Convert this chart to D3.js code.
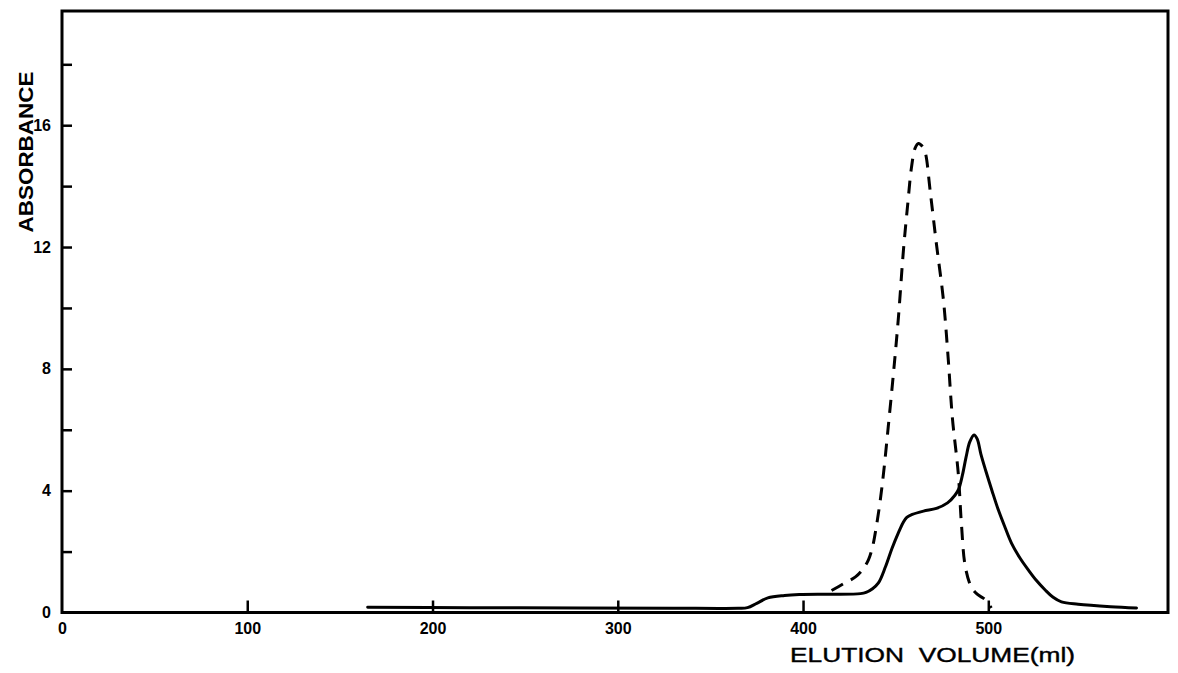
<!DOCTYPE html>
<html>
<head>
<meta charset="utf-8">
<script src="https://cdn.jsdelivr.net/npm/d3@7"></script>
<style>
  html, body { margin: 0; padding: 0; background: #fff; }
  svg { display: block; }
</style>
</head>
<body>
<svg id="chart" width="1178" height="673"></svg>
<script>
// ---- data ----
const xTicks = [0, 100, 200, 300, 400, 500];
const yTicks = [0, 2, 4, 6, 8, 10, 12, 14, 16, 18];
const yLabelled = [0, 4, 8, 12, 16];
const xTitle = "ELUTION VOLUME(ml)";
const yTitle = "ABSORBANCE";

// solid curve: elution volume (ml) and absorbance
const solidVolume = [165, 220, 280, 330, 365, 370, 375, 381, 390, 398, 415, 431, 434, 437.5, 440.7, 444.5, 448, 451.5, 454, 456, 459, 465, 472, 478, 482, 484, 486, 488, 490, 492.3, 494, 496, 498.5, 502, 505.4, 509, 512.5, 517, 521.6, 526, 530.7, 535, 539.5, 548.5, 566, 580];
const solidAbs    = [0.17, 0.16, 0.15, 0.14, 0.14, 0.16, 0.3, 0.48, 0.56, 0.59, 0.6, 0.62, 0.66, 0.78, 0.97, 1.5, 2.1, 2.62, 2.95, 3.12, 3.22, 3.33, 3.42, 3.6, 3.85, 4.05, 4.5, 5.1, 5.6, 5.83, 5.7, 5.2, 4.68, 4.0, 3.37, 2.8, 2.28, 1.8, 1.4, 1.05, 0.74, 0.5, 0.35, 0.27, 0.19, 0.15];

// dashed curve
const dashVolume = [415.4, 422, 428.3, 432, 435.3, 437.5, 439.5, 441.5, 443.5, 446, 448.8, 451.5, 454.2, 456.5, 458.5, 460.5, 462.3, 464.5, 466, 468.7, 472, 475.8, 478.4, 480.6, 483.8, 485.5, 487.6, 490.8, 494, 498.4, 501.6];
const dashAbs    = [0.72, 0.95, 1.17, 1.4, 1.73, 2.15, 2.8, 3.6, 4.6, 6.1, 7.85, 9.7, 11.9, 13.4, 14.6, 15.25, 15.4, 15.3, 15.1, 13.8, 12.1, 10.25, 8.3, 6.4, 4.56, 2.9, 1.5, 0.84, 0.6, 0.42, 0.15];

// ---- layout ----
const svg = d3.select("#chart");
const x = d3.scaleLinear().domain([0, 597]).range([62, 1168]);
const y = d3.scaleLinear().domain([0, 19.75]).range([612.5, 11]);
const font = "'Liberation Sans', Arial, sans-serif";

// frame
svg.append("rect")
  .attr("x", x(0)).attr("y", y(19.75))
  .attr("width", x(597) - x(0)).attr("height", y(0) - y(19.75))
  .attr("fill", "none").attr("stroke", "#000").attr("stroke-width", 3);

// x axis
const gx = svg.append("g").attr("transform", `translate(0,${y(0)})`)
  .call(d3.axisBottom(x).tickValues(xTicks).tickSize(-12).tickPadding(10).tickFormat(d3.format("d")));
gx.select(".domain").remove();
gx.selectAll(".tick line").attr("stroke", "#000").attr("stroke-width", 2.5);
gx.selectAll(".tick text").attr("font-family", font).attr("font-weight", "bold").attr("font-size", 16).attr("fill", "#000");
gx.selectAll(".tick").filter(d => d === 0).select("line").remove();

// y axis
const gy = svg.append("g").attr("transform", `translate(${x(0)},0)`)
  .call(d3.axisLeft(y).tickValues(yTicks).tickSize(-10).tickPadding(11)
    .tickFormat(d => yLabelled.includes(d) ? d : ""));
gy.select(".domain").remove();
gy.selectAll(".tick line").attr("stroke", "#000").attr("stroke-width", 2.5);
gy.selectAll(".tick text").attr("font-family", font).attr("font-weight", "bold").attr("font-size", 16).attr("fill", "#000");
gy.selectAll(".tick").filter(d => d === 0).select("line").remove();

// titles
svg.append("text")
  .attr("transform", "translate(33,152) rotate(-90)")
  .attr("text-anchor", "middle")
  .attr("font-family", font).attr("font-weight", "bold").attr("font-size", 21)
  .attr("textLength", 161).attr("lengthAdjust", "spacingAndGlyphs")
  .text(yTitle);

svg.append("text")
  .attr("x", 790).attr("y", 662)
  .attr("font-family", font).attr("font-size", 21)
  .attr("stroke", "#000").attr("stroke-width", 0.4)
  .attr("textLength", 285).attr("lengthAdjust", "spacingAndGlyphs")
  .attr("xml:space", "preserve")
  .text(xTitle.replace("ELUTION ", "ELUTION  "));

// curves
const line = d3.line().x(d => x(d[0])).y(d => y(d[1])).curve(d3.curveCatmullRom.alpha(0.5));

svg.append("path")
  .datum(d3.zip(solidVolume, solidAbs))
  .attr("d", line)
  .attr("fill", "none").attr("stroke", "#000").attr("stroke-width", 3)
  .attr("stroke-linejoin", "round").attr("stroke-linecap", "round");

svg.append("path")
  .datum(d3.zip(dashVolume, dashAbs))
  .attr("d", line)
  .attr("fill", "none").attr("stroke", "#000").attr("stroke-width", 3)
  .attr("stroke-dasharray", "13,9");
</script>
</body>
</html>
